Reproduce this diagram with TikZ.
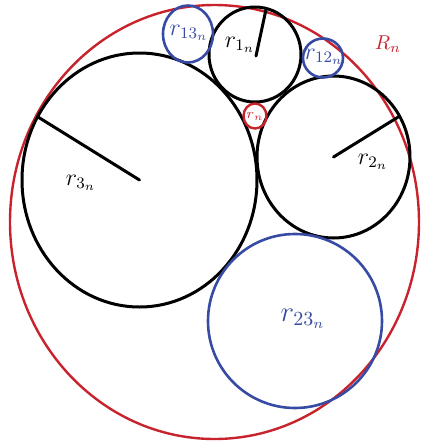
\documentclass[tikz,border=0pt]{standalone}
\usepackage{amsmath}
\usepackage{tikz}
\usetikzlibrary{calc}
\definecolor{circred}{RGB}{200,35,45}
\definecolor{circblue}{RGB}{55,75,165}

\tikzset{
  bigcirc/.style={line width=1.5pt},
  redcirc/.style={circred, line width=1.2pt},
  bluecirc/.style={circblue, line width=1.3pt},
  radline/.style={line width=1.5pt}
}

\begin{document}
\begin{tikzpicture}[x=0.5pt, y=-0.5pt, line cap=round, line join=round]
  \useasboundingbox (0,0) rectangle (420,446);

  %--------------------------
  % Outer circle R_n
  %--------------------------
  \draw[redcirc] (214.5,222) ellipse (204.5 and 217);
  \node[circred] (Rn) at (388,44) {$R_n$};

  %--------------------------
  % Three large circles with radii
  %--------------------------
  \coordinate (c1) at (256,56);
  \coordinate (c2) at (333.5,157);
  \coordinate (c3) at (139.5,180);
  \coordinate (p1) at (266,9.5);
  \coordinate (p2) at (399,116.5);
  \coordinate (p3) at (38,117);

  \draw[bigcirc] (255,54.5) ellipse (46 and 47.5);
  \draw[bigcirc] (c2) ellipse (76.5 and 81);
  \draw[bigcirc] (c3) ellipse (117.5 and 127);

  \draw[radline] (c1) -- (p1);
  \draw[radline] (c2) -- (p2);
  \draw[radline] (c3) -- (p3);

  \node (r1) at (240,45) {\large$r_{1_n}$};
  \node (r2) at (373,162) {\large$r_{2_n}$};
  \node (r3) at (81,183) {\large$r_{3_n}$};

  %--------------------------
  % Small circles in the gaps
  %--------------------------
  \draw[bluecirc] (188,34) ellipse (25 and 28.5);
  \draw[bluecirc] (323,58) ellipse (20 and 19.5);
  \draw[bluecirc] (295,321) ellipse (87 and 87);
  \draw[redcirc] (255,116) ellipse (11.5 and 12.5);

  \node[circblue] (r13) at (189,33) {\large$r_{13_n}$};
  \node[circblue] (r12) at (324,57) {\large$r_{12_n}$};
  \node[circblue] (r23) at (303,319) {\Large$r_{23_n}$};
  \node[circred] (rn) at (255,116) {\scriptsize$r_n$};

\end{tikzpicture}
\end{document}
